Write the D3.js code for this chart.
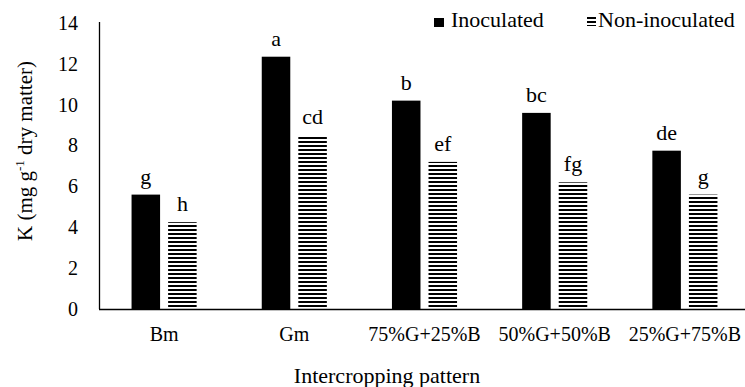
<!DOCTYPE html>
<html>
<head>
<meta charset="utf-8">
<script src="https://cdn.jsdelivr.net/npm/d3@7"></script>
<style>
  body { margin: 0; background: #fff; }
  svg text { font-family: "Liberation Serif", "Times New Roman", "DejaVu Serif", serif; fill: #000; }
</style>
</head>
<body>
<div id="chart"></div>
<script>
// data
var categories = ["Bm", "Gm", "75%G+25%B", "50%G+50%B", "25%G+75%B"];
var seriesNames = ["Inoculated", "Non-inoculated"];
var inoculated = [5.6, 12.35, 10.2, 9.6, 7.75];
var nonInoculated = [4.25, 8.5, 7.2, 6.2, 5.6];
var inocLetters = ["g", "a", "b", "bc", "de"];
var nonLetters = ["h", "cd", "ef", "fg", "g"];
var yTicks = [0, 2, 4, 6, 8, 10, 12, 14];

var serif = "'Liberation Serif', 'Times New Roman', serif";
var width = 745, height = 387;
var plotLeft = 99, plotRight = 750, plotTop = 23, plotBottom = 309;

var svg = d3.select("#chart").append("svg")
    .attr("width", width)
    .attr("height", height)
    .style("font-family", serif);

/* striped fill for non-inoculated */
var defs = svg.append("defs");
var pat = defs.append("pattern")
    .attr("id", "stripes")
    .attr("patternUnits", "userSpaceOnUse")
    .attr("width", 8)
    .attr("height", 4);
pat.append("rect").attr("width", 8).attr("height", 4).attr("fill", "#fff");
pat.append("rect").attr("y", 1).attr("width", 8).attr("height", 2).attr("fill", "#000");

var x0 = d3.scaleBand()
    .domain(categories)
    .range([plotLeft, plotRight])
    .paddingInner(0.5)
    .paddingOuter(0.25);

var x1 = d3.scaleBand()
    .domain(seriesNames)
    .range([0, x0.bandwidth()])
    .paddingInner(0.22);

var y = d3.scaleLinear()
    .domain([0, 14])
    .range([plotBottom, plotTop]);

var rows = categories.map(function (c, i) {
    return {
        cat: c,
        bars: [
            { key: seriesNames[0], value: inoculated[i], letter: inocLetters[i] },
            { key: seriesNames[1], value: nonInoculated[i], letter: nonLetters[i] }
        ]
    };
});

/* bars */
var groups = svg.append("g").selectAll("g")
    .data(rows).enter()
    .append("g")
    .attr("transform", d => `translate(${x0(d.cat)},0)`);

groups.selectAll("rect")
    .data(d => d.bars).enter()
    .append("rect")
    .attr("x", d => x1(d.key))
    .attr("y", d => y(d.value))
    .attr("width", x1.bandwidth())
    .attr("height", d => y(0) - y(d.value))
    .attr("fill", d => d.key === seriesNames[0] ? "#000" : "url(#stripes)");

groups.selectAll("text")
    .data(d => d.bars).enter()
    .append("text")
    .attr("x", d => x1(d.key) + x1.bandwidth() / 2)
    .attr("y", d => y(d.value) - 11)
    .attr("text-anchor", "middle")
    .style("font-size", "22px")
    .text(d => d.letter);

/* axes */
var yAxis = d3.axisLeft(y).tickValues(yTicks).tickSize(0).tickPadding(21);
var gy = svg.append("g")
    .attr("transform", `translate(${plotLeft},0)`)
    .call(yAxis);
gy.attr("font-family", null).attr("font-size", null);
gy.select(".domain").attr("stroke", "#000").attr("stroke-width", 1.3)
    .attr("d", `M0.5,${plotTop - 1}V${plotBottom}`);
gy.selectAll("text").style("font-size", "20px");

var xAxis = d3.axisBottom(x0).tickSize(0).tickPadding(18);
var gx = svg.append("g")
    .attr("transform", `translate(0,${plotBottom})`)
    .call(xAxis);
gx.attr("font-family", null).attr("font-size", null);
gx.select(".domain").attr("stroke", "#000").attr("stroke-width", 1.3)
    .attr("d", `M${plotLeft},0.5H${width}`);
gx.selectAll("text").style("font-size", "20px");

/* axis titles */
svg.append("text")
    .attr("x", 387)
    .attr("y", 383)
    .attr("text-anchor", "middle")
    .style("font-size", "22px")
    .text("Intercropping pattern");

var yt = svg.append("text")
    .attr("transform", "translate(32,151) rotate(-90)")
    .attr("text-anchor", "middle")
    .style("font-size", "21px");
yt.append("tspan").text("K (mg g");
yt.append("tspan").attr("dy", -8).style("font-size", "13px").text("-1");
yt.append("tspan").attr("dy", 8).text(" dry matter)");

/* legend */
var legend = svg.append("g");
legend.append("rect").attr("x", 434).attr("y", 18).attr("width", 10).attr("height", 9).attr("fill", "#000");
legend.append("text").attr("x", 451).attr("y", 27).style("font-size", "22px").text(seriesNames[0]);
legend.append("rect").attr("x", 587).attr("y", 17).attr("width", 9).attr("height", 9).attr("fill", "url(#stripes)");
legend.append("text").attr("x", 598).attr("y", 27).style("font-size", "22px").text(seriesNames[1]);
</script>
</body>
</html>
